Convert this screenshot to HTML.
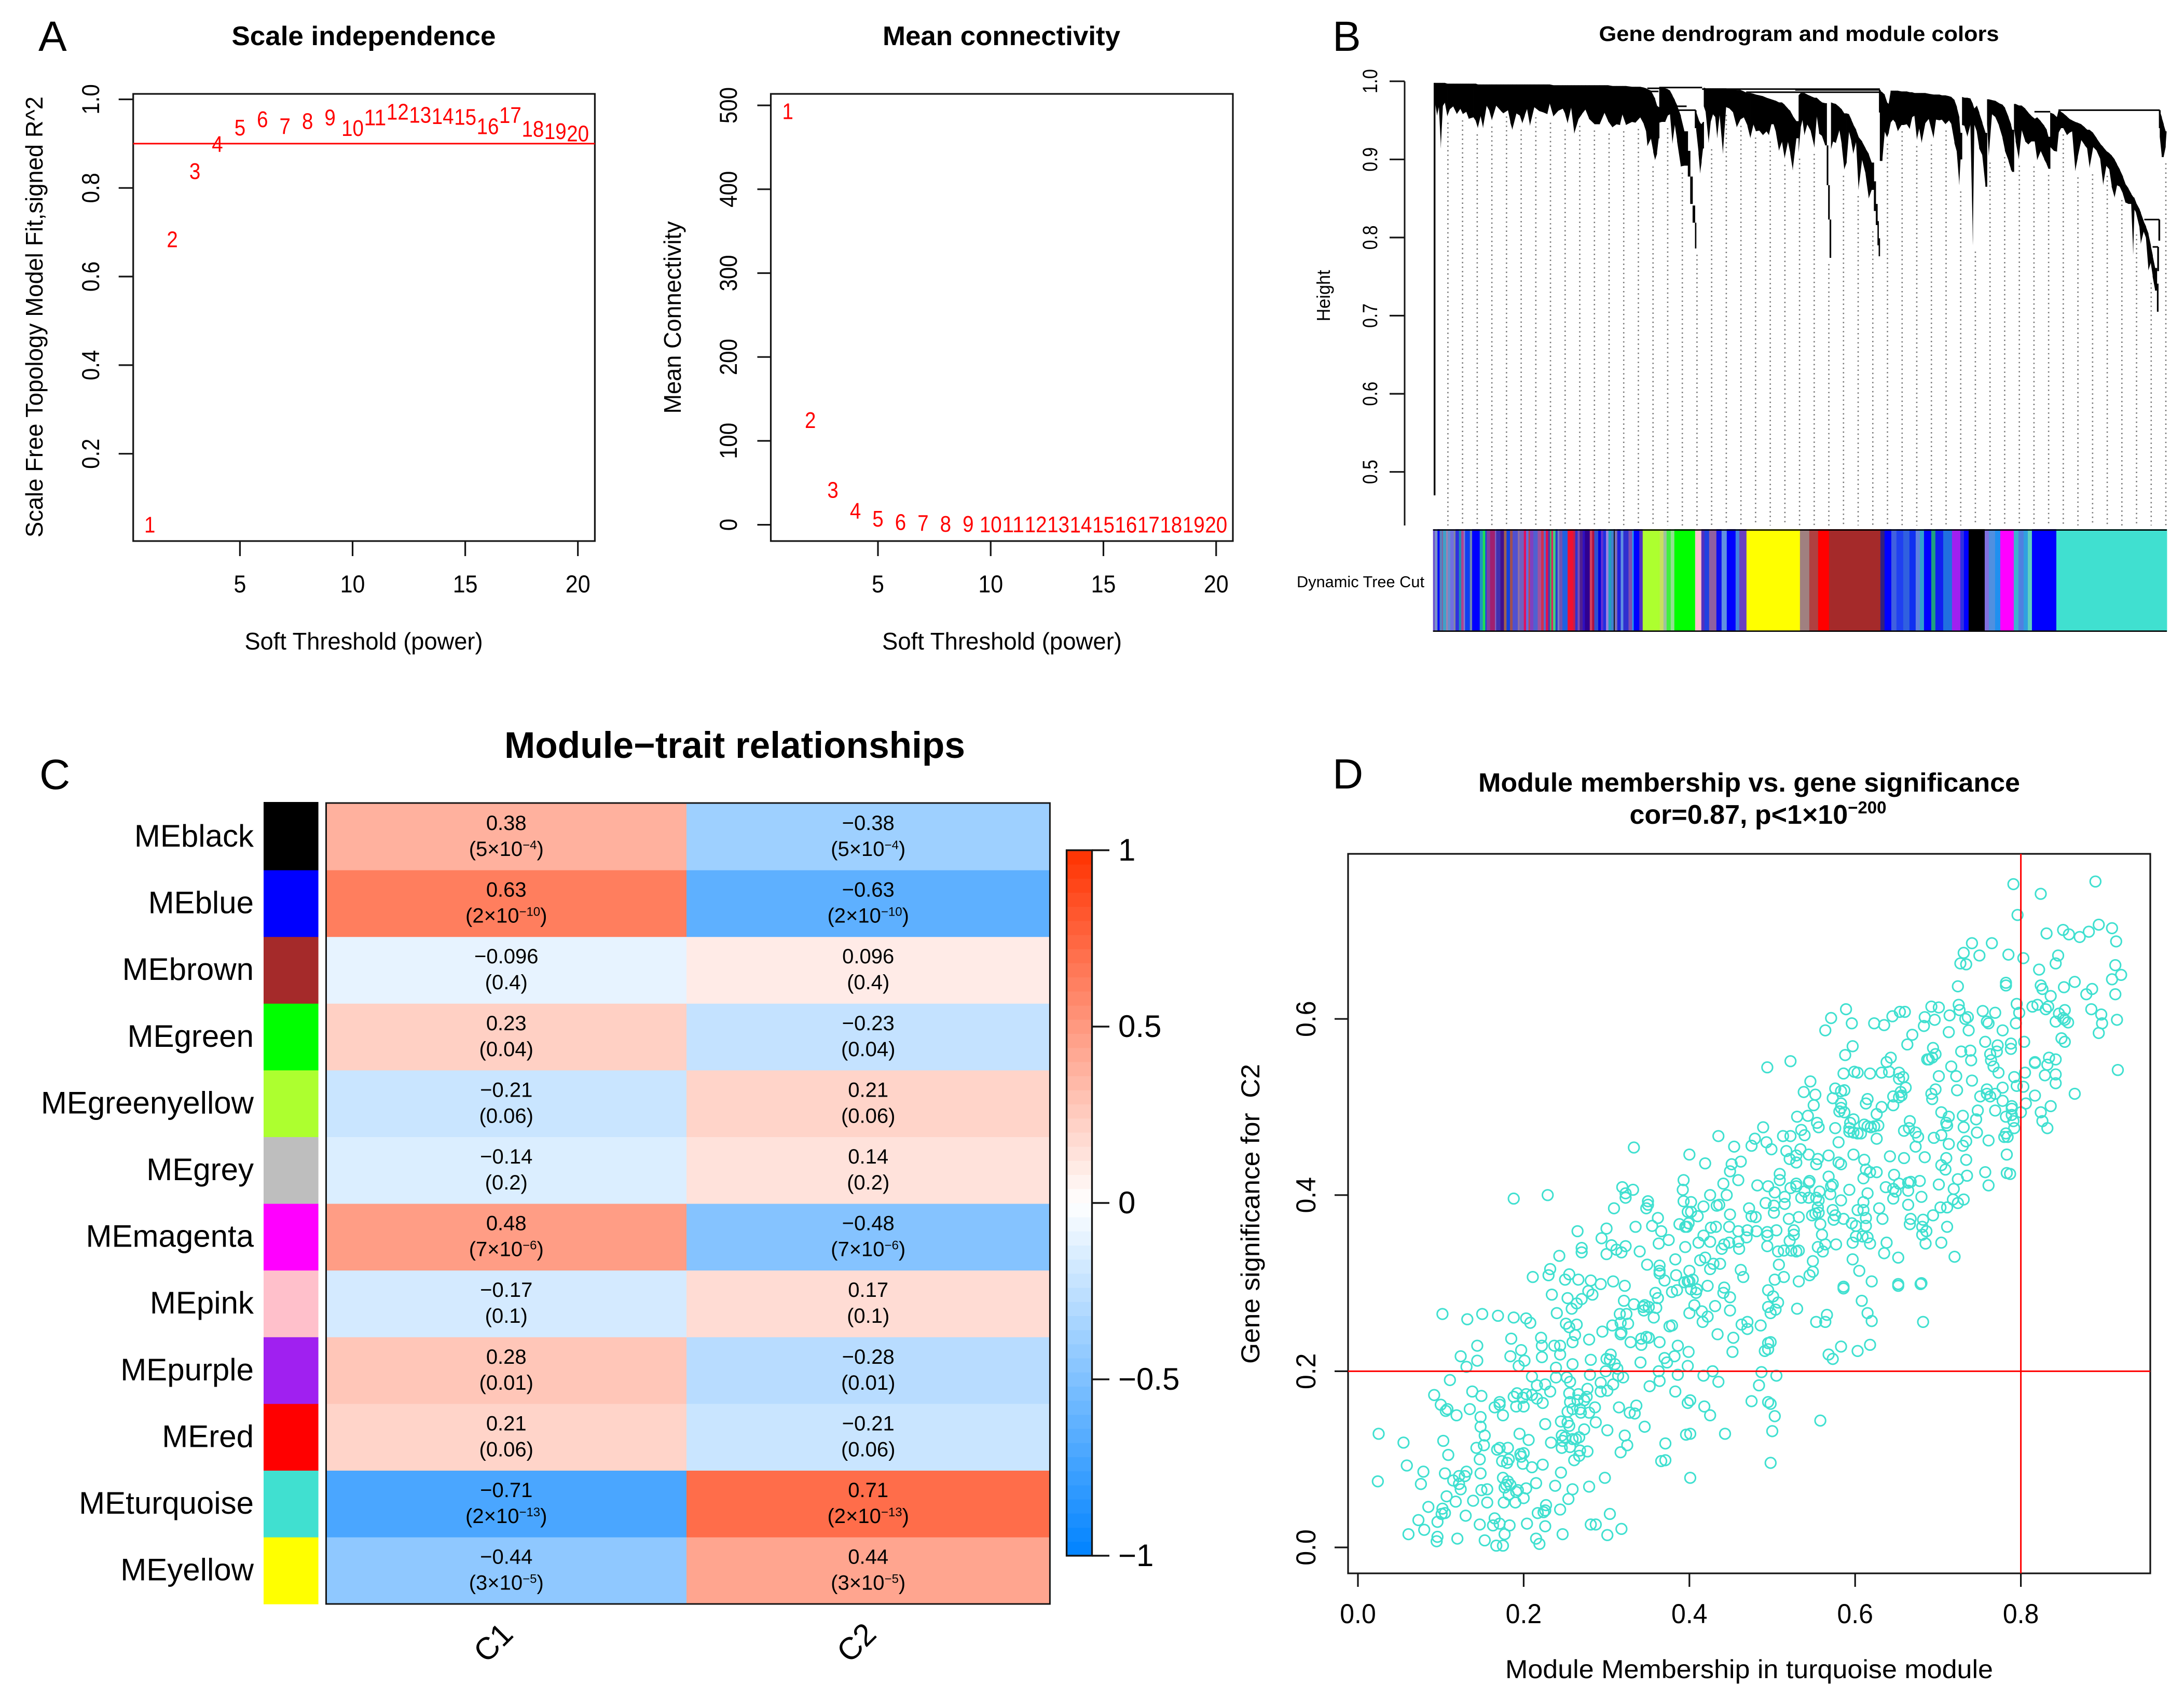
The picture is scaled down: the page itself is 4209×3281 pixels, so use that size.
<!DOCTYPE html>
<html lang="en">
<head>
<meta charset="utf-8">
<title>WGCNA figure</title>
<style>
html,body{margin:0;padding:0;background:#fff;}
svg{display:block;}
text{font-family:"Liberation Sans",sans-serif;fill:#000;}
.bold{font-weight:bold;}
.letter{font-size:82px;}
.axt{font-size:46px;}
.ttl{font-size:52px;font-weight:bold;}
</style>
</head>
<body>
<svg id="fig" xmlns="http://www.w3.org/2000/svg" width="4209" height="3281" viewBox="0 0 4209 3281">
<rect x="0" y="0" width="4209" height="3281" fill="#fff"/>
<g id="panelA1">
<text class="letter" x="74" y="98">A</text>
<text class="ttl" x="701" y="87" text-anchor="middle" textLength="509" lengthAdjust="spacingAndGlyphs">Scale independence</text>
<text class="axt" x="701" y="1252" text-anchor="middle" textLength="459" lengthAdjust="spacingAndGlyphs">Soft Threshold (power)</text>
<text class="axt" transform="translate(82 611) rotate(-90)" text-anchor="middle" textLength="850" lengthAdjust="spacingAndGlyphs">Scale Free Topology Model Fit,signed R^2</text>
</g>
<g id="panelA2">
<text class="ttl" x="1930" y="87" text-anchor="middle" textLength="458" lengthAdjust="spacingAndGlyphs">Mean connectivity</text>
<text class="axt" x="1931" y="1252" text-anchor="middle" textLength="462" lengthAdjust="spacingAndGlyphs">Soft Threshold (power)</text>
<text class="axt" transform="translate(1312 612) rotate(-90)" text-anchor="middle" textLength="371" lengthAdjust="spacingAndGlyphs">Mean Connectivity</text>
</g>
<g id="panelB">
<text class="letter" x="2568" y="98">B</text>
<text class="bold" style="font-size:41px" x="3467" y="79" text-anchor="middle" textLength="771" lengthAdjust="spacingAndGlyphs">Gene dendrogram and module colors</text>
<text style="font-size:36px" transform="translate(2563 570) rotate(-90)" text-anchor="middle" textLength="99" lengthAdjust="spacingAndGlyphs">Height</text>
<text style="font-size:31px" x="2499" y="1132" textLength="246" lengthAdjust="spacingAndGlyphs">Dynamic Tree Cut</text>
</g>
<g id="panelC">
<text class="letter" x="76" y="1521">C</text>
<text class="bold" style="font-size:71px" x="1416" y="1461" text-anchor="middle" textLength="888" lengthAdjust="spacingAndGlyphs">Module−trait relationships</text>
</g>
<g id="panelD">
<text class="letter" x="2568" y="1520">D</text>
<text class="bold" style="font-size:51px" x="3371" y="1526" text-anchor="middle" textLength="1044" lengthAdjust="spacingAndGlyphs">Module membership vs. gene significance</text>
<text class="bold" style="font-size:52px" x="3388" y="1588" text-anchor="middle">cor=0.87, p&lt;1×10<tspan dy="-20" style="font-size:33px">−200</tspan></text>
<text style="font-size:50px" x="3371" y="3235" text-anchor="middle" textLength="940" lengthAdjust="spacingAndGlyphs">Module Membership in turquoise module</text>
<text style="font-size:50px;white-space:pre" transform="translate(2427 2340) rotate(-90)" text-anchor="middle" textLength="578" lengthAdjust="spacingAndGlyphs">Gene significance for  C2</text>
</g>
</svg>
<script>
/* ---------- panel A data ---------- */
const softPowers = [1,2,3,4,5,6,7,8,9,10,11,12,13,14,15,16,17,18,19,20];
const scaleFitR2 = [0.04,0.684,0.838,0.899,0.936,0.955,0.939,0.951,0.959,0.935,0.959,0.972,0.965,0.962,0.960,0.939,0.964,0.933,0.928,0.923];
const meanConnectivity = [493,124.6,41.5,16.4,7.2,3.1,2,1,1,0.5,0.4,0.3,0.3,0.2,0.2,0.1,0.1,0.1,0.1,0.1];
const powerTicks = [5,10,15,20];
const r2Ticks = [0.2,0.4,0.6,0.8,1.0];
const connectivityTicks = [0,100,200,300,400,500];
const r2Cutoff = 0.9;

/* ---------- panel B data ---------- */
const heightTicks = [0.5,0.6,0.7,0.8,0.9,1.0];
const leafRank = [34,42,50,58,66,75,85,95,110,125,140,150,165,175,195,205,213,225,235,250,262,272,290,310,320,340,350,358,375,390,400,410,420,432,450,470,490,505,515,530,550,570,580,590,605,618,635,650,665,680,703,725,745,760,778,795,810,820,835,860,875,895,910,920,925,940,950,957,965,972,975,985,1000,1010,1020,1030,1040,1050,1065,1080,1095,1105,1115,1125,1130,1140,1146,1152,1158,1162,1170,1182,1190,1200,1210,1218,1228,1242,1255,1270,1285,1300,1315,1330,1345,1357,1370,1380,1395,1410,1425,1435,1445,1455,1465,1477,1490,1501,1515,1525,1535,1550,1560,1568,1576,1584,1596,1611,1626,1636,1646,1658,1671,1678,1684,1690,1696,1704,1716,1731,1741,1751,1761,1771,1781,1789,1801,1811,1826,1841,1854,1866,1876,1884,1891,1896,1901,1911,1921,1931,1938,1946,1956,1966,1976,1991,2001,2014,2026,2036,2046,2056,2066,2076,2091,2106,2126,2136,2151,2161,2176,2191,2201,2214,2224,2234,2239,2246,2256,2268,2281,2291,2297,2308,2318,2331,2344,2351,2358,2371,2386,2401,2416,2426,2441,2451,2456,2464,2471,2484,2496,2511,2524,2536,2551,2561,2576,2591,2601,2608,2616,2631,2644,2651,2661,2671,2686,2696,2708,2721,2731,2746,2761,2771,2781,2796,2811,2826,2838,2851,2864,2874,2886,2896,2908,2921,2931,2944,2956,2964,2969,2976,2991,2996,3008,3018,3028,3038,3046,3056,3064,3070,3076,3084,3092,3100,3104];
const mergeTop = [.998,.998,.998,.998,.998,.998,.997,.997,.997,.997,.997,.997,.997,.997,.997,.997,.996,.996,.996,.996,.996,.996,.996,.996,.996,.996,.996,.996,.996,.996,.996,.996,.996,.996,.996,.996,.996,.996,.996,.995,.995,.995,.995,.995,.995,.995,.995,.995,.995,.995,.995,.995,.995,.995,.994,.994,.994,.994,.994,.993,.993,.993,.992,.991,.990,.988,.982,.978,.969,.967,.992,.992,.991,.990,.988,.982,.976,.969,.956,.936,.911,.878,.841,.819,.961,.951,.947,.945,.948,.992,.991,.991,.991,.991,.991,.991,.991,.991,.991,.990,.990,.989,.989,.987,.985,.985,.984,.983,.982,.981,.979,.978,.977,.976,.975,.973,.973,.970,.965,.962,.956,.949,.982,.985,.985,.985,.983,.981,.979,.979,.976,.973,.972,.918,.867,.823,.973,.972,.971,.967,.964,.959,.959,.958,.951,.945,.938,.929,.923,.914,.907,.896,.872,.843,.821,.799,.988,.986,.983,.973,.971,.988,.988,.988,.988,.987,.987,.987,.986,.986,.985,.985,.985,.985,.985,.984,.983,.983,.983,.982,.982,.981,.980,.976,.967,.954,.934,.980,.979,.979,.978,.971,.965,.969,.960,.947,.934,.977,.977,.976,.975,.972,.970,.966,.954,.945,.938,.971,.971,.969,.969,.965,.960,.956,.952,.954,.949,.943,.938,.929,.960,.958,.954,.964,.961,.959,.955,.952,.950,.948,.947,.945,.941,.938,.938,.934,.927,.920,.916,.911,.908,.905,.900,.894,.887,.878,.869,.863,.856,.852,.851,.845,.836,.832,.821,.814,.805,.790,.777,.761,.741,.700,.962,.954,.945,.936,.936];
const mergeBottom = [.973,.956,.968,.914,.968,.973,.955,.964,.968,.958,.965,.958,.961,.952,.954,.949,.940,.956,.940,.969,.962,.950,.969,.962,.959,.963,.947,.938,.959,.956,.946,.956,.965,.943,.967,.962,.960,.958,.972,.955,.962,.965,.958,.946,.967,.933,.951,.958,.964,.952,.945,.945,.960,.949,.941,.945,.944,.958,.944,.948,.947,.954,.945,.935,.917,.927,.909,.899,.907,.927,.947,.948,.948,.956,.958,.920,.945,.923,.891,.892,.878,.843,.819,.786,.938,.907,.882,.896,.914,.968,.960,.921,.947,.958,.954,.927,.958,.907,.967,.965,.960,.941,.951,.954,.943,.927,.945,.936,.937,.931,.936,.931,.945,.945,.934,.911,.923,.901,.923,.907,.886,.927,.909,.940,.951,.931,.945,.936,.915,.956,.933,.930,.918,.867,.823,.774,.913,.923,.921,.938,.918,.887,.896,.936,.923,.907,.923,.861,.900,.881,.850,.861,.834,.816,.790,.776,.898,.898,.936,.928,.934,.947,.951,.947,.936,.944,.944,.945,.939,.954,.956,.925,.940,.921,.946,.952,.927,.951,.950,.951,.945,.950,.945,.921,.909,.867,.900,.944,.943,.929,.945,.790,.945,.935,.914,.905,.865,.945,.904,.958,.954,.943,.927,.911,.898,.887,.884,.940,.923,.900,.938,.923,.919,.923,.923,.899,.911,.900,.894,.888,.916,.911,.910,.934,.940,.940,.931,.934,.936,.885,.902,.925,.918,.914,.889,.916,.911,.900,.867,.892,.887,.865,.851,.867,.865,.856,.845,.843,.843,.778,.836,.832,.812,.792,.808,.799,.758,.768,.750,.732,.705,.700,.929,.903,.903,.916,.936];
const railStart = [975,1155,1546,1340,1050,1050,925,925,2651,2550,3011,3046];
const railEnd = [1155,1901,1901,1901,1090,1128,975,972,3076,2616,3074,3069];
const railHeight = [.992,.990,.989,.986,.968,.963,.991,.987,.963,.961,.823,.788];
const stemRank = [32,3074,3069,1128,1901,3076];
const stemTop = [.998,.823,.788,.963,.989,.963];
const stemBottom = [.470,.796,.757,.940,.960,.940];
const stripeColors = ['#6a4fd0','#7a90c8','#0000ff','#5a80c0','#8060a0','#40a0c8','#a080b0','#6090d0','#7070e0','#8088a0','#3030e0','#2090b0','#b04090','#8080d0','#1040f0','#7088b0','#0000ff','#2090c0','#20e050','#2040e0','#8040a0','#a02070','#8060c0','#4030b0','#401090','#a06050','#1040e0','#a05050','#5050d0','#9070a0','#7060c0','#e01060','#6070e0','#d04040','#8040c0','#5060d0','#a050a0','#d03050','#5070d0','#e01050','#4040b0','#30c060','#e02060','#40d080','#2040d0','#8080c0','#7050b0','#2060e0','#f01030','#c02050','#3030d0','#8050b0','#502090','#3010c0','#300090','#d04060','#b01040','#3050d0','#0000e0','#6030d0','#2030e0','#a080e0','#20a0c0','#4080d0','#000000','#8070b0','#2020e0','#6090e0','#3030d0','#8050b0','#20a0f0','#0000ff','#5030c0','#adff2f','#c8e060','#a0c0a0','#40f040','#90e090','#00ff00','#ffc0cb','#5030c0','#2040e0','#9060a0','#1010f0','#6090e0','#0000ff','#4080e0','#6a40c0','#ffff00','#a08080','#b04040','#ff0000','#a52a2a','#302080','#0000ff','#4060e0','#2040f0','#3060e0','#1030f0','#6080e0','#30a0d0','#0000ff','#20a080','#1020f0','#2070e0','#a020f0','#3030e0','#0000ff','#000000','#8070e0','#5090e0','#2090f0','#ff00ff','#40b0d0','#5080e0','#30a0e0','#60d0c0','#0000ff','#40e0d0'];
const stripeGenes = [10,16,12,14,6,18,10,14,20,10,20,13,14,8,28,13,44,18,14,8,20,28,7,25,20,15,20,15,30,10,25,13,14,8,20,25,20,15,12,14,10,8,10,14,12,10,18,30,32,12,14,12,17,13,28,14,12,23,15,14,16,14,16,15,5,15,20,15,30,22,8,32,20,99,21,18,24,21,120,36,18,27,42,30,30,51,21,42,309,54,51,63,297,24,39,30,39,36,36,24,24,42,24,45,51,48,21,27,93,24,36,30,78,27,30,24,24,141,639];

/* ---------- panel C data ---------- */
const moduleNames = ['MEblack','MEblue','MEbrown','MEgreen','MEgreenyellow','MEgrey','MEmagenta','MEpink','MEpurple','MEred','MEturquoise','MEyellow'];
const moduleSwatches = ['#000000','#0000ff','#a52a2a','#00ff00','#adff2f','#bebebe','#ff00ff','#ffc0cb','#a020f0','#ff0000','#40e0d0','#ffff00'];
const traitNames = ['C1','C2'];
const corC1 = [0.38,0.63,-0.096,0.23,-0.21,-0.14,0.48,-0.17,0.28,0.21,-0.71,-0.44];
const corC2 = [-0.38,-0.63,0.096,-0.23,0.21,0.14,-0.48,0.17,-0.28,-0.21,0.71,0.44];
const pMantissa = ['5','2','0.4','0.04','0.06','0.2','7','0.1','0.01','0.06','2','3'];
const pExponent = ['−4','−10','','','','','−6','','','','−13','−5'];
const colorbarTicks = [1,0.5,0,-0.5,-1];
const colorbarLevels = 50;

/* ---------- panel D data ---------- */
const membershipTicks = [0,0.2,0.4,0.6,0.8];
const significanceTicks = [0,0.2,0.4,0.6];
const membershipCut = 0.8;
const significanceCut = 0.2;
const membershipLower = [
.333,.400,.419,.454,.451,.449,.462,.459,.393,.392,
.441,.319,.332,.323,.323,.445,.425,.229,.188,.350,
.350,.348,.393,.402,.309,.417,.436,.433,.398,.402,
.410,.449,.362,.388,.399,.395,.397,.335,.355,.448,
.432,.426,.300,.265,.366,.459,.294,.417,.375,.425,
.411,.363,.448,.459,.442,.439,.306,.323,.312,.318,
.270,.270,.300,.243,.340,.395,.460,.383,.419,.413,
.429,.437,.349,.364,.425,.232,.364,.462,.400,.230,
.255,.211,.250,.266,.364,.384,.465,.281,.370,.308,
.293,.322,.394,.398,.404,.400,.422,.442,.278,.283,
.359,.385,.379,.402,.409,.408,.441,.449,.234,.253,
.270,.264,.362,.258,.321,.333,.346,.344,.360,.345,
.351,.406,.431,.240,.316,.324,.400,.415,.449,.422,
.102,.150,.132,.169,.188,.203,.208,.251,.264,.255,
.307,.326,.317,.357,.416,.376,.379,.463,.295,.318,
.317,.262,.434,.185,.221,.279,.259,.348,.342,.351,
.364,.329,.453,.144,.222,.237,.244,.197,.342,.386,
.399,.452,.124,.184,.222,.244,.305,.382,.370,.144,
.201,.259,.281,.300,.304,.310,.341,.373,.131,.194,
.239,.398,.299,.313,.363,.428,.111,.210,.280,.239,
.252,.256,.314,.320,.386,.417,.364,.435,.216,.226,
.293,.308,.352,.138,.232,.301,.293,.277,.149,.092,
.255,.266,.383,.192,.188,.203,.210,.199,.276,.171,
.171,.100,.216,.223,.273,.265,.256,.401,.398,.191,
.200,.165,.108,.106,.135,.315,.336,.418,.286,.259,
.268,.279,.269,.253,.328,.334,.119,.175,.425,.148,
.245,.287,.253,.255,.226,.148,.346,.273,.301,.025,
.195,.153,.246,.322,.250,.267,.396,.401,.443,.055,
.103,.206,.233,.247,.259,.263,.371,.152,.143,.246,
.256,.325,.181,.171,.168,.268,.277,.317,.196,.200,
.197,.109,.267,.261,.147,.182,.174,.180,.366,.371,
.199,.223,.059,.210,.079,.105,.148,.131,.122,.129,
.245,.298,.401,.024,.115,.175,.181,.179,.184,.076,
.122,.215,.238,.124,.149,.156,.177,.193,.203,.191,
.279,.259,.107,.182,.200,.254,.118,.139,.156,.176,
.190,.227,.085,.102,.101,.105,.244,.217,.226,.224,
.130,.304,.073,.096,.165,.171,.147,.163,.183,.204,
.226,.281,.287,.080,.318,.061,.096,.120,.095,.177,
.247,.301,.215,.153,.219,.167,.175];
const significanceLower = [
.454,.446,.436,.455,.435,.427,.438,.417,.417,.406,
.413,.409,.406,.402,.397,.400,.400,.400,.396,.393,
.389,.385,.393,.392,.385,.387,.389,.388,.381,.381,
.376,.378,.374,.367,.368,.364,.364,.364,.365,.364,
.364,.363,.362,.359,.359,.359,.351,.354,.349,.347,
.346,.345,.346,.347,.344,.339,.343,.342,.338,.335,
.340,.335,.333,.331,.336,.341,.339,.327,.329,.326,
.322,.322,.321,.320,.316,.316,.314,.315,.314,.309,
.310,.307,.304,.304,.311,.309,.307,.303,.303,.302,
.299,.297,.301,.302,.304,.302,.297,.295,.291,.287,
.289,.292,.290,.293,.293,.289,.289,.284,.287,.283,
.282,.277,.283,.271,.280,.276,.275,.273,.272,.269,
.273,.275,.274,.266,.265,.265,.266,.268,.269,.262,
.265,.265,.259,.263,.261,.260,.255,.254,.253,.250,
.252,.254,.255,.261,.256,.251,.252,.253,.245,.244,
.242,.241,.242,.237,.238,.236,.233,.239,.237,.238,
.233,.233,.238,.229,.229,.229,.229,.224,.230,.229,
.222,.222,.217,.217,.216,.219,.219,.217,.215,.212,
.212,.208,.213,.214,.213,.208,.210,.210,.205,.206,
.204,.206,.200,.203,.200,.200,.190,.194,.196,.193,
.193,.188,.195,.193,.196,.195,.189,.188,.184,.185,
.187,.185,.183,.177,.177,.178,.177,.180,.172,.173,
.175,.174,.177,.175,.171,.174,.173,.170,.171,.165,
.162,.162,.169,.164,.167,.167,.165,.167,.164,.160,
.160,.159,.157,.155,.157,.159,.161,.160,.159,.157,
.157,.153,.153,.154,.153,.152,.150,.150,.150,.148,
.143,.142,.142,.138,.140,.137,.137,.134,.133,.129,
.129,.127,.127,.127,.125,.125,.128,.129,.129,.119,
.121,.122,.119,.121,.123,.123,.118,.116,.113,.113,
.114,.116,.113,.113,.111,.110,.109,.108,.106,.107,
.103,.105,.104,.099,.100,.100,.098,.096,.098,.099,
.095,.094,.093,.091,.086,.084,.084,.086,.081,.081,
.085,.079,.079,.075,.076,.079,.075,.071,.071,.072,
.072,.073,.070,.066,.065,.066,.068,.065,.067,.063,
.069,.066,.058,.060,.056,.055,.052,.053,.051,.051,
.051,.048,.046,.044,.038,.039,.043,.039,.042,.040,
.036,.038,.031,.029,.033,.027,.026,.025,.025,.027,
.024,.026,.026,.020,.021,.015,.012,.010,.007,.015,
.015,.014,.010,.008,.004,.002,.002];
const membershipUpper = [
.791,.890,.824,.796,.831,.851,.858,.871,.882,.894,
.910,.915,.741,.765,.731,.750,.785,.803,.845,.842,
.727,.734,.914,.822,.921,.910,.782,.782,.865,.724,
.824,.852,.826,.886,.879,.914,.836,.725,.795,.692,
.701,.589,.726,.814,.820,.833,.830,.885,.853,.754,
.769,.798,.897,.571,.645,.654,.660,.684,.714,.736,
.733,.846,.851,.842,.853,.857,.916,.696,.759,.761,
.596,.623,.635,.898,.683,.564,.713,.737,.778,.794,
.894,.669,.849,.853,.757,.804,.663,.597,.694,.772,
.788,.788,.771,.728,.739,.588,.763,.697,.693,.689,
.687,.643,.638,.834,.842,.740,.764,.817,.817,.767,
.716,.832,.917,.494,.522,.641,.773,.805,.586,.599,
.603,.618,.632,.653,.722,.701,.829,.842,.792,.546,
.653,.658,.741,.842,.661,.576,.583,.587,.778,.795,
.803,.697,.723,.759,.538,.655,.692,.865,.552,.769,
.817,.759,.646,.656,.751,.763,.653,.573,.615,.693,
.613,.778,.806,.550,.583,.646,.632,.789,.836,.583,
.581,.587,.769,.789,.748,.800,.704,.824,.626,.543,
.530,.730,.713,.782,.789,.746,.598,.666,.791,.826,
.594,.710,.711,.611,.554,.628,.623,.619,.615,.556,
.593,.576,.731,.832,.792,.593,.659,.665,.489,.673,
.535,.747,.598,.603,.607,.676,.435,.513,.522,.539,
.782,.780,.784,.695,.704,.626,.479,.475,.493,.580,
.761,.713,.734,.730,.673,.499,.534,.517,.598,.783,
.529,.544,.568,.642,.659,.684,.710,.521,.611,.555,
.529,.553,.580,.583,.734,.704,.709,.613,.618,.626,
.509,.757,.783,.787,.568,.647,.509,.610,.735,.724,
.545,.544,.529,.573,.571,.653,.664,.667,.678,.701,
.761,.482,.495,.529,.522,.593,.637,.646,.649,.664,
.719,.503,.615,.539,.557,.570,.680,.515,.535,.544,
.553,.646,.583,.610,.556,.718,.731,.724,.664,.515,
.492,.502,.555,.573,.629,.472,.703,.711,.502,.603,
.610,.556,.552,.548,.576,.532,.586,.694,.475,.480,
.613,.633,.574,.520,.667,.682,.666,.596,.601,.558,
.613,.681,.711,.686,.526,.505,.470,.481,.494,.526,
.681,.494,.560,.469,.601,.609,.615,.521,.577,.597,
.618,.638,.704,.685,.494,.555,.564,.561,.507,.514,
.523,.529,.532,.635,.652,.720,.597,.549,.508,.605,
.549,.545,.514,.503,.620,.532,.652,.680,.586];
const significanceUpper = [
.753,.756,.742,.718,.697,.701,.696,.693,.699,.707,
.703,.688,.686,.686,.675,.672,.673,.669,.672,.663,
.663,.662,.661,.656,.650,.645,.641,.638,.642,.637,
.638,.636,.634,.634,.628,.628,.626,.616,.617,.614,
.613,.611,.610,.614,.616,.614,.611,.611,.610,.609,
.607,.607,.605,.601,.603,.608,.608,.602,.604,.602,
.600,.606,.601,.597,.599,.596,.599,.599,.597,.595,
.595,.595,.593,.595,.592,.587,.585,.587,.587,.595,
.584,.582,.578,.574,.574,.574,.571,.569,.567,.570,
.572,.566,.563,.563,.564,.559,.560,.560,.556,.554,
.554,.556,.551,.556,.554,.553,.553,.551,.550,.546,
.546,.548,.542,.545,.552,.540,.539,.539,.538,.540,
.539,.538,.539,.539,.535,.535,.536,.537,.534,.529,
.532,.534,.530,.527,.522,.521,.518,.519,.522,.524,
.523,.520,.519,.520,.517,.517,.515,.515,.514,.515,
.513,.515,.512,.513,.512,.512,.511,.510,.509,.509,
.504,.507,.504,.502,.504,.502,.500,.501,.501,.499,
.495,.494,.496,.498,.496,.494,.494,.494,.492,.490,
.489,.490,.489,.489,.491,.486,.486,.484,.484,.484,
.482,.482,.479,.480,.482,.479,.478,.477,.478,.477,
.476,.476,.477,.476,.476,.472,.473,.476,.477,.471,
.474,.471,.471,.470,.470,.466,.467,.467,.467,.468,
.470,.466,.466,.465,.468,.464,.464,.456,.460,.460,
.462,.458,.461,.456,.455,.452,.452,.450,.446,.446,
.445,.446,.445,.444,.442,.443,.442,.441,.440,.441,
.437,.435,.437,.435,.440,.434,.429,.429,.426,.426,
.424,.426,.425,.424,.421,.423,.417,.419,.422,.418,
.416,.414,.413,.412,.410,.413,.414,.415,.416,.412,
.411,.411,.410,.410,.408,.406,.409,.407,.404,.405,
.407,.403,.402,.404,.404,.401,.398,.398,.397,.397,
.397,.396,.394,.392,.394,.395,.395,.391,.389,.390,
.391,.388,.386,.383,.385,.385,.386,.386,.380,.383,
.383,.380,.379,.377,.377,.375,.373,.377,.376,.375,
.374,.373,.372,.373,.373,.372,.367,.368,.365,.367,
.365,.364,.364,.359,.360,.360,.360,.359,.358,.355,
.355,.354,.355,.352,.353,.353,.352,.348,.344,.346,
.345,.346,.346,.345,.342,.341,.344,.336,.336,.337,
.337,.336,.337,.334,.329,.330,.327,.325,.321,.314,
.313,.309,.307,.304,.302,.302,.299,.300,.296];
const membershipRight = [
.586,.652,.679,.608,.530,.615,.620,.553,.564,.566,
.682,.486,.495,.504,.498,.507,.501,.495,.583,.568,
.573,.603,.618,.495,.498,.491,.495,.487,.505,.484,
.475,.495,.498,.503,.500,.498,.558,.470,.470];
const significanceRight = [
.294,.297,.299,.280,.271,.266,.257,.256,.256,.264,
.256,.252,.273,.270,.266,.278,.285,.292,.228,.219,
.214,.223,.230,.232,.233,.223,.225,.199,.195,.184,
.166,.165,.163,.149,.132,.096,.144,.248,.256];

/* ---------- helpers ---------- */
const SVGNS = 'http://www.w3.org/2000/svg';
function mk(tag, attrs, parent, txt) {
  const e = document.createElementNS(SVGNS, tag);
  for (const k in attrs) e.setAttribute(k, attrs[k]);
  if (txt !== undefined) e.textContent = txt;
  parent.appendChild(e);
  return e;
}
const INK = '#141414';
const mm = s => String(s).replace('-', '−');
const advance = (s, em) => s.split('').reduce((a, c) => a + (c === '.' ? 0.278 : 0.556), 0) * em;

/* ---------- axes for base-R style plots ---------- */
function drawFrame(parent, x0, y0, x1, y1) {
  const f = mk('rect', {x:x0, y:y0, width:x1-x0, height:y1-y0, fill:'none', stroke:INK, 'stroke-width':3.2}, parent);
  
  
}
function drawXTicks(parent, ticks, fx, yBase, tickLen, labelY, size, fmt, em) {
  ticks.forEach(t => {
    const l = mk('line', {x1:fx(t), x2:fx(t), y1:yBase, y2:yBase+tickLen, stroke:INK, 'stroke-width':3.2}, parent);
    
    
    const str = fmt(t);
    const s = mk('text', {x:fx(t), y:labelY, 'text-anchor':'middle', style:'font-size:'+size+'px', textLength:advance(str, em), lengthAdjust:'spacingAndGlyphs'}, parent, str);
    
    
  });
}
function drawYTicks(parent, ticks, fy, xBase, tickLen, labelX, size, fmt, em) {
  ticks.forEach(t => {
    const l = mk('line', {x1:xBase-tickLen, x2:xBase, y1:fy(t), y2:fy(t), stroke:INK, 'stroke-width':3.2}, parent);
    
    
    const str = fmt(t);
    const s = mk('text', {transform:'translate('+labelX+' '+fy(t)+') rotate(-90)', 'text-anchor':'middle', style:'font-size:'+size+'px', textLength:advance(str, em), lengthAdjust:'spacingAndGlyphs'}, parent, str);
    
    
  });
}
function drawPowerLabels(parent, fx, fy, values) {
  softPowers.forEach((p, i) => {
    const str = String(p);
    const s = mk('text', {x:fx(p), y:fy(values[i])+15, 'text-anchor':'middle', style:'font-size:44px;fill:#ff0000', textLength:advance(str, 38.5), lengthAdjust:'spacingAndGlyphs'}, parent, str);
    
    
  });
}

/* ---------- panel A: scale independence ---------- */
(function () {
  const g = document.getElementById('panelA1');
  const fx = p => 462.4 + (p - 5) * 43.42;
  const fy = v => 191.5 + (1 - v) * 854;
  drawFrame(g, 256.7, 181, 1146.4, 1043);
  drawXTicks(g, powerTicks, fx, 1043, 29, 1142, 47, t => String(t), 43);
  drawYTicks(g, r2Ticks, fy, 256.7, 28, 191, 47, t => t.toFixed(1), 42);
  const cut = mk('line', {x1:256.7, x2:1146.4, y1:fy(r2Cutoff), y2:fy(r2Cutoff), stroke:'#ff0000', 'stroke-width':3}, g);
  
  
  drawPowerLabels(g, fx, fy, scaleFitR2);
})();

/* ---------- panel A: mean connectivity ---------- */
(function () {
  const g = document.getElementById('panelA2');
  const fx = p => 1692 + (p - 5) * 43.45;
  const fy = v => 1011.6 - v * 1.617;
  drawFrame(g, 1485.5, 181, 2376, 1043);
  drawXTicks(g, powerTicks, fx, 1043, 29, 1142, 47, t => String(t), 43);
  drawYTicks(g, connectivityTicks, fy, 1485.5, 26, 1420, 47, t => String(t), 42);
  drawPowerLabels(g, fx, fy, meanConnectivity);
})();

/* ---------- panel B: dendrogram and colour strip ---------- */
(function () {
  const g = document.getElementById('panelB');
  const fx = r => 2750 + r / 2.178;
  const fy = h => 156.7 + (1 - h) * 1506;
  const axis = mk('line', {x1:2707, x2:2707, y1:fy(1), y2:1013, stroke:INK, 'stroke-width':3}, g);
  
  
  drawYTicks(g, heightTicks, fy, 2707, 29, 2654, 40, t => t.toFixed(1), 33.8);

  for (let r = 88; r < 3110; r += 61.5) {
    let low = 1;
    leafRank.forEach((k, i) => { if (Math.abs(k - r) < 14 && mergeBottom[i] < low) low = mergeBottom[i]; });
    const d = mk('line', {x1:fx(r), x2:fx(r), y1:fy(low)+12, y2:1013, stroke:'#777', 'stroke-width':2.6, 'stroke-dasharray':'2.6 6.2'}, g);
    
    
  }
  for (let i = 0; i < leafRank.length - 1; i++) {
    const joined = Math.abs(mergeTop[i+1] - mergeTop[i]) < 0.02;
    const x0 = fx(leafRank[i]);
    const x1 = fx(leafRank[i+1]) + 0.4;
    const yt0 = fy(mergeTop[i]);
    const yb0 = fy(mergeBottom[i]);
    const yt1 = joined ? fy(mergeTop[i+1]) : yt0;
    const yb1 = joined ? fy(mergeBottom[i+1]) : yb0;
    const b = mk('polygon', {points:x0+','+yt0+' '+x1+','+yt1+' '+x1+','+yb1+' '+x0+','+yb0, fill:'#000'}, g);
    
    
  }
  railStart.forEach((s, i) => {
    const r = mk('line', {x1:fx(s), x2:fx(railEnd[i]), y1:fy(railHeight[i]), y2:fy(railHeight[i]), stroke:'#000', 'stroke-width':3}, g);
    
    
  });
  stemRank.forEach((s, i) => {
    const r = mk('line', {x1:fx(s), x2:fx(s), y1:fy(stemTop[i]), y2:fy(stemBottom[i]), stroke:'#000', 'stroke-width':3.4}, g);
    
    
  });

  const total = stripeGenes.reduce((a, b) => a + b, 0);
  const sx = n => 2761.7 + n * (4176 - 2761.7) / total;
  let cum = 0;
  stripeColors.forEach((c, i) => {
    const w = stripeGenes[i];
    const r = mk('rect', {x:sx(cum), y:1020, width:sx(cum+w)-sx(cum)+0.4, height:198, fill:c}, g);
    
    
    cum += w;
  });
  [1021.7, 1216.7].forEach(y => {
    const l = mk('line', {x1:2761.7, x2:4176, y1:y, y2:y, stroke:'#000', 'stroke-width':2.6}, g);
    
    
  });
})();

/* ---------- panel C: heatmap ---------- */
(function () {
  const g = document.getElementById('panelC');
  const rowTop = 1549, rowH = 128.6;
  const colEdge = [628.5, 1323, 2023.4];
  const fy = i => rowTop + i * rowH;
  const heat = v => v >= 0
    ? 'rgb(255,' + Math.round(255 - 205 * v) + ',' + Math.round(255 - 255 * v) + ')'
    : 'rgb(' + Math.round(255 + 255 * v) + ',' + Math.round(255 + 125 * v) + ',255)';
  const series = [corC1, corC2];

  moduleNames.forEach((name, i) => {
    const top = i === 0 ? 1546 : fy(i);
    const sw = mk('rect', {x:508, y:top, width:105.6, height:fy(i+1)-top+0.4, fill:moduleSwatches[i]}, g);
    
    
    const lab = mk('text', {x:489, y:fy(i)+83, 'text-anchor':'end', style:'font-size:60px'}, g, name);
    
    
    series.forEach((vals, c) => {
      const cell = mk('rect', {x:colEdge[c], y:fy(i), width:colEdge[c+1]-colEdge[c]+0.4, height:rowH+0.4, fill:heat(vals[i])}, g);
      
      
      const cx = (colEdge[c] + colEdge[c+1]) / 2;
      const t = mk('text', {x:cx, y:fy(i)+51, 'text-anchor':'middle', style:'font-size:40px'}, g, mm(vals[i]));
      
      
      const p = mk('text', {x:cx, y:fy(i)+101, 'text-anchor':'middle', style:'font-size:40px'}, g);
      
      
      if (pExponent[i]) {
        mk('tspan', {}, p, '(' + pMantissa[i] + '×10');
        mk('tspan', {dy:-13, style:'font-size:24px'}, p, pExponent[i]);
        mk('tspan', {dy:13}, p, ')');
      } else {
        p.textContent = '(' + pMantissa[i] + ')';
      }
    });
  });
  const frame = mk('rect', {x:colEdge[0], y:1548, width:colEdge[2]-colEdge[0], height:3092-1548, fill:'none', stroke:INK, 'stroke-width':3}, g);
  
  

  const traitX = [950, 1650];
  traitNames.forEach((n, i) => {
    const t = mk('text', {transform:'translate('+traitX[i]+' 3166) rotate(-45)', y:21, 'text-anchor':'middle', style:'font-size:60px'}, g, n);
    
    
  });

  const by = v => 2319 - v * 680;
  const step = 2 / colorbarLevels;
  for (let k = 0; k < colorbarLevels; k++) {
    const lo = -1 + k * step;
    const r = mk('rect', {x:2055.6, y:by(lo+step), width:48.9, height:by(lo)-by(lo+step)+0.4, fill:heat(lo + step / 2)}, g);
    
    
  }
  const cbf = mk('rect', {x:2055.6, y:by(1), width:48.9, height:by(-1)-by(1), fill:'none', stroke:INK, 'stroke-width':3.4}, g);
  
  
  colorbarTicks.forEach(t => {
    const l = mk('line', {x1:2104.5, x2:2138, y1:by(t), y2:by(t), stroke:INK, 'stroke-width':3.4}, g);
    
    
    const s = mk('text', {x:2155, y:by(t)+20, style:'font-size:60px'}, g, mm(t));
    
    
  });
})();

/* ---------- panel D: scatter ---------- */
(function () {
  const g = document.getElementById('panelD');
  const fx = v => 2617 + v * 1597;
  const fy = v => 2983 - v * 1698;
  const xs = membershipLower.concat(membershipUpper, membershipRight);
  const ys = significanceLower.concat(significanceUpper, significanceRight);
  drawFrame(g, 2598, 1646, 4144, 3033);
  drawXTicks(g, membershipTicks, fx, 3033, 26, 3129, 53, t => t.toFixed(1), 50);
  drawYTicks(g, significanceTicks, fy, 2598, 26, 2535, 53, t => t.toFixed(1), 50);
  xs.forEach((x, i) => {
    const c = mk('circle', {cx:fx(x), cy:fy(ys[i]), r:10.2, fill:'none', stroke:'#40e0d0', 'stroke-width':3}, g);
    
    
  });
  const h = mk('line', {x1:2598, x2:4144, y1:fy(significanceCut), y2:fy(significanceCut), stroke:'#ff0000', 'stroke-width':3}, g);
  
  
  const v = mk('line', {x1:fx(membershipCut), x2:fx(membershipCut), y1:1646, y2:3033, stroke:'#ff0000', 'stroke-width':3}, g);
  
  
})();
</script>
</body>
</html>
